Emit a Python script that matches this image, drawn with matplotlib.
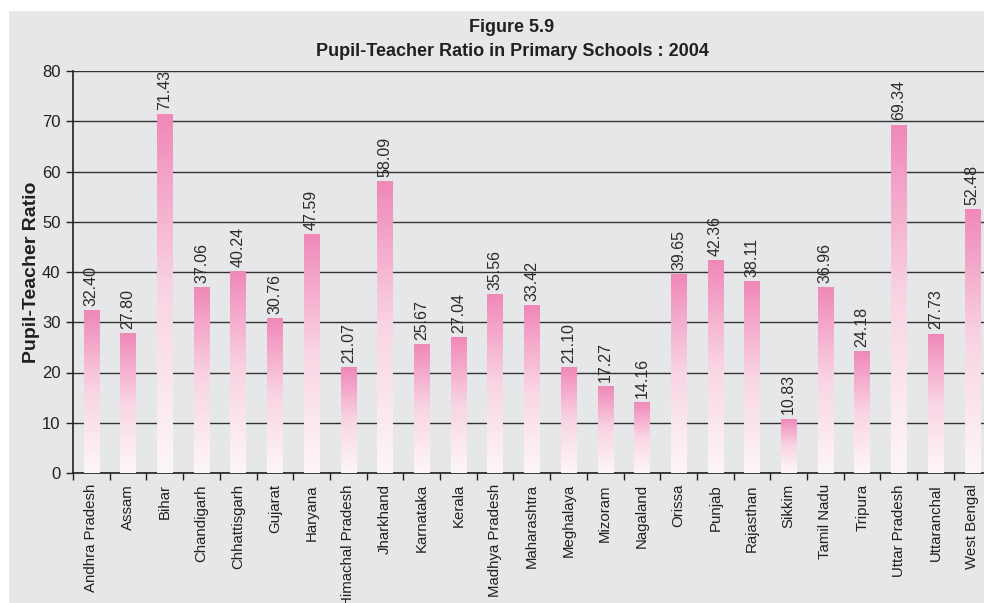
import matplotlib
matplotlib.use("Agg")
import matplotlib.pyplot as plt
import numpy as np
from matplotlib.colors import LinearSegmentedColormap
from matplotlib.patches import Rectangle

states = ["Andhra Pradesh", "Assam", "Bihar", "Chandigarh", "Chhattisgarh", "Gujarat",
          "Haryana", "Himachal Pradesh", "Jharkhand", "Karnataka", "Kerala",
          "Madhya Pradesh", "Maharashtra", "Meghalaya", "Mizoram", "Nagaland", "Orissa",
          "Punjab", "Rajasthan", "Sikkim", "Tamil Nadu", "Tripura", "Uttar Pradesh",
          "Uttaranchal", "West Bengal"]
ratios = [32.40, 27.80, 71.43, 37.06, 40.24, 30.76, 47.59, 21.07, 58.09, 25.67, 27.04,
          35.56, 33.42, 21.10, 17.27, 14.16, 39.65, 42.36, 38.11, 10.83, 36.96, 24.18,
          69.34, 27.73, 52.48]
yticks = [0, 10, 20, 30, 40, 50, 60, 70, 80]

plt.rcParams['font.family'] = ['Liberation Sans', 'DejaVu Sans']
txt = '#231f20'
bg = '#e6e7e9'

W, H = 984, 603
fig = plt.figure(figsize=(W / 100, H / 100), dpi=100)
fig.patch.set_facecolor('white')
# gray panel
fig.patches.append(Rectangle((9 / W, 0), 1, 1 - 11 / H, transform=fig.transFigure,
                             facecolor=bg, edgecolor='none', zorder=-10))

left, right, top, bottom = 73, 990.6, 71, 473
ax = fig.add_axes([left / W, 1 - bottom / H, (right - left) / W, (bottom - top) / H])
ax.set_facecolor(bg)

x = np.arange(len(states))
bars = ax.bar(x, ratios, width=0.42, color='none', edgecolor='none', zorder=3)

cmap = LinearSegmentedColormap.from_list('pk', ['#fdf6f9', '#f9d5e4', '#f088b8'])
grad = np.linspace(0, 1, 256).reshape(-1, 1)
for b in bars:
    x0, w, h = b.get_x(), b.get_width(), b.get_height()
    im = ax.imshow(grad, cmap=cmap, aspect='auto', origin='lower',
                   extent=[x0, x0 + w, 0, h], zorder=3, interpolation='bilinear')
    im.set_clip_path(b)

for xi, v in zip(x, ratios):
    ax.annotate(f"{v:.2f}", (xi, v), xytext=(0, 3), textcoords='offset points',
                rotation=90, ha='center', va='bottom', fontsize=11.5, color='#2b2b2b',
                zorder=4)

ax.set_xlim(-0.5, len(states) - 0.5)
ax.set_ylim(0, 80)
ax.set_yticks(yticks)
ax.set_yticklabels([str(t) for t in yticks], fontsize=12, color=txt)
ax.set_xticks(x)
ax.set_xticklabels(states, rotation=90, fontsize=10.8, color=txt, va='top')
ax.tick_params(axis='x', length=0, pad=8)
ax.set_xticks(np.arange(len(states) + 1) - 0.5, minor=True)
ax.tick_params(axis='x', which='minor', length=5, width=1, color='#231f20', direction='out')
ax.tick_params(axis='y', length=5, width=1, color='#231f20', direction='out', pad=4)

ax.yaxis.grid(True, color='#333333', linewidth=1)
ax.set_axisbelow(True)
for s in ['top', 'right']:
    ax.spines[s].set_visible(False)
for s in ['left', 'bottom']:
    ax.spines[s].set_color('#231f20')
    ax.spines[s].set_linewidth(1.2)

ax.set_ylabel("Pupil-Teacher Ratio", fontsize=14, fontweight='bold', color=txt, labelpad=1)

fig.text(512 / W, 1 - 28 / H, "Figure 5.9", ha='center', va='center', fontsize=13,
         fontweight='bold', color=txt)
fig.text(512 / W, 1 - 52 / H, "Pupil-Teacher Ratio in Primary Schools : 2004", ha='center',
         va='center', fontsize=13, fontweight='bold', color=txt)

fig.savefig("out.png", dpi=100, facecolor=fig.get_facecolor())
